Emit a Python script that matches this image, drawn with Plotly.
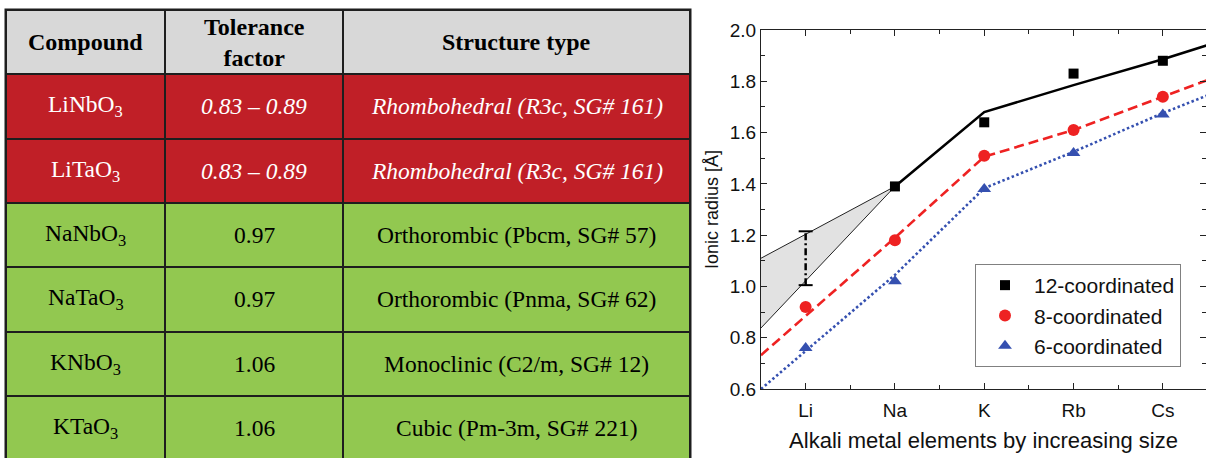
import plotly.graph_objects as go

# ---------------- table content ----------------
headers = ["<b>Compound</b>", "<b>Tolerance<br>factor</b>", "<b>Structure type</b>"]
compounds = ["LiNbO<sub>3</sub>", "LiTaO<sub>3</sub>", "NaNbO<sub>3</sub>",
             "NaTaO<sub>3</sub>", "KNbO<sub>3</sub>", "KTaO<sub>3</sub>"]
tolerance = ["0.83 – 0.89", "0.83 – 0.89", "0.97", "0.97", "1.06", "1.06"]
structures = ["Rhombohedral (R3c, SG# 161)", "Rhombohedral (R3c, SG# 161)",
              "Orthorombic (Pbcm, SG# 57)", "Orthorombic (Pnma, SG# 62)",
              "Monoclinic (C2/m, SG# 12)", "Cubic (Pm-3m, SG# 221)"]
perovskite = [False, False, True, True, True, True]

# ---------------- ionic radii (Å) ----------------
elements = ["Li", "Na", "K", "Rb", "Cs"]
elem_pos = [1, 2, 3, 4, 5]
r12 = [None, 1.39, 1.64, 1.83, 1.88]
r8 = [0.92, 1.18, 1.51, 1.61, 1.74]
r6 = [0.76, 1.02, 1.38, 1.52, 1.67]

# estimated 12-fold radius range for Li
li12_low, li12_high = 1.005, 1.215

# trend lines (positions on the element axis, values in Å)
trend12_x = [2, 3, 4, 5, 5.5]
trend12 = [1.39, 1.68, 1.785, 1.886, 1.941]
trend8_x = [0.5, 2, 3, 4, 5, 5.5]
trend8 = [0.732, 1.19, 1.506, 1.61, 1.74, 1.805]
trend6_x = [0.5, 2, 3, 4, 5, 5.5]
trend6 = [0.60, 1.045, 1.383, 1.525, 1.676, 1.745]

# uncertainty wedge for Li in 12-fold coordination
wedge_x = [0.5, 2, 0.5]
wedge_y = [1.11, 1.39, 0.838]

# ---------------- layout constants ----------------
W, H = 1206, 458
col_widths = [159, 178, 347]
HEADER_C, RED_C, GREEN_C = "#D8D8D8", "#C01F27", "#92C850"
SERIF = "Liberation Serif"
SANS = "Liberation Sans"
INK = "#111111"
AXIS_C = "#222222"


def px_x(p):
    return p / W


def px_y(p):
    return 1 - p / H


fig = go.Figure()

# ---------------- table drawn as a heatmap ----------------
x_edges = [0]
for w in col_widths:
    x_edges.append(x_edges[-1] + w)
n_rows = len(compounds) + 1
y_edges = list(range(n_rows + 1))

z = [[0, 0, 0]]
for p in perovskite:
    z.append([2, 2, 2] if p else [1, 1, 1])

fig.add_trace(go.Heatmap(
    x=x_edges, y=y_edges, z=z, zmin=0, zmax=2,
    colorscale=[[0, HEADER_C], [0.5, RED_C], [1, GREEN_C]],
    showscale=False, xgap=2, ygap=2, hoverinfo="skip",
    xaxis="x2", yaxis="y2",
))

annotations = []
col_centers = [(x_edges[i] + x_edges[i + 1]) / 2 for i in range(3)]
for c, h in enumerate(headers):
    annotations.append(dict(x=col_centers[c], y=0.5, xref="x2", yref="y2",
                            text=h, showarrow=False,
                            font=dict(family=SERIF, size=24, color="#000")))
for r in range(len(compounds)):
    red = not perovskite[r]
    color = "#ffffff" if red else "#000000"
    cells = [compounds[r], tolerance[r], structures[r]]
    for c, t in enumerate(cells):
        if red and c > 0:
            t = "<i>" + t + "</i>"
        annotations.append(dict(x=col_centers[c], y=r + 1.5, xref="x2", yref="y2",
                                text=t, showarrow=False,
                                font=dict(family=SERIF, size=23.5, color=color)))

# ---------------- ionic radius chart ----------------
fig.add_trace(go.Scatter(
    x=wedge_x, y=wedge_y, mode="lines", fill="toself",
    fillcolor="#E2E2E2", line=dict(color="#222", width=1),
    showlegend=False, hoverinfo="skip"))

fig.add_trace(go.Scatter(
    x=trend12_x, y=trend12, mode="lines",
    line=dict(color="#000", width=2.6), showlegend=False))
fig.add_trace(go.Scatter(
    x=trend8_x, y=trend8, mode="lines",
    line=dict(color="#EE2222", width=2.6, dash="10px,5px"), showlegend=False))
fig.add_trace(go.Scatter(
    x=trend6_x, y=trend6, mode="lines",
    line=dict(color="#3550B0", width=2.6, dash="2.5px,2.5px"), showlegend=False))

# Li 12-fold range bar
fig.add_trace(go.Scatter(
    x=[elem_pos[0], elem_pos[0]], y=[li12_low, li12_high], mode="lines",
    line=dict(color="#000", width=2.5, dash="7px,3px,2px,3px"), showlegend=False))
fig.add_trace(go.Scatter(
    x=[elem_pos[0], elem_pos[0]], y=[li12_low, li12_high], mode="markers",
    marker=dict(symbol="line-ew", size=10, line=dict(color="#000", width=2)),
    showlegend=False))

fig.add_trace(go.Scatter(
    x=elem_pos, y=r12, mode="markers", name="12-coordinated",
    marker=dict(symbol="square", size=10, color="#000")))
fig.add_trace(go.Scatter(
    x=elem_pos, y=r8, mode="markers", name="8-coordinated",
    marker=dict(symbol="circle", size=12, color="#EE2222")))
fig.add_trace(go.Scatter(
    x=elem_pos, y=r6, mode="markers", name="6-coordinated",
    marker=dict(symbol="triangle-up", size=12, color="#3550B0")))

axis_common = dict(showline=True, linecolor=AXIS_C, linewidth=1.2, mirror="allticks",
                   ticks="inside", tickcolor=AXIS_C, tickwidth=1.2, ticklen=6,
                   showgrid=False, zeroline=False, automargin=False)

fig.update_layout(
    width=W, height=H, autosize=False,
    margin=dict(l=0, r=0, t=0, b=0, pad=0, autoexpand=False),
    paper_bgcolor="white", plot_bgcolor="rgba(0,0,0,0)",
    font=dict(family=SANS, color=INK),
    xaxis=dict(
        domain=[px_x(761), 1.0], range=[0.5, 0.5 + 445 / 89.3],
        tickmode="array", tickvals=elem_pos, ticktext=elements,
        tickfont=dict(size=19, color=INK), ticklabelstandoff=4,
        minor=dict(tickmode="array", tickvals=[1.5, 2.5, 3.5, 4.5],
                   ticks="inside", ticklen=4, tickcolor=AXIS_C, tickwidth=1.2),
        title=dict(text="Alkali metal elements by increasing size",
                   font=dict(size=22, color=INK), standoff=12),
        **axis_common),
    yaxis=dict(
        domain=[px_y(389), px_y(30)], range=[0.6, 2.0],
        tickmode="array", tickvals=[0.6, 0.8, 1.0, 1.2, 1.4, 1.6, 1.8, 2.0],
        tickformat=".1f", tickfont=dict(size=19, color=INK),
        minor=dict(tickmode="array", tickvals=[0.7, 0.9, 1.1, 1.3, 1.5, 1.7, 1.9],
                   ticks="inside", ticklen=4, tickcolor=AXIS_C, tickwidth=1.2),
        title=dict(text="Ionic radius [Å]", font=dict(size=18, color=INK), standoff=6),
        **axis_common),
    xaxis2=dict(domain=[px_x(6), px_x(690)], range=[0, x_edges[-1]],
                visible=False, fixedrange=True),
    yaxis2=dict(domain=[0, px_y(10)], range=[448 / 64.3, 0],
                visible=False, fixedrange=True),
    legend=dict(x=px_x(975), y=px_y(264), xanchor="left", yanchor="top",
                bgcolor="white", bordercolor="#808080", borderwidth=1,
                font=dict(family=SANS, size=21, color=INK),
                itemwidth=48, tracegroupgap=0),
    annotations=annotations,
    shapes=[dict(type="rect", xref="paper", yref="paper",
                 x0=px_x(4.5), x1=px_x(691.5), y0=0, y1=px_y(8.5),
                 fillcolor="#1e1e1e", line=dict(width=0), layer="below")],
)

fig.write_html("out.html")
